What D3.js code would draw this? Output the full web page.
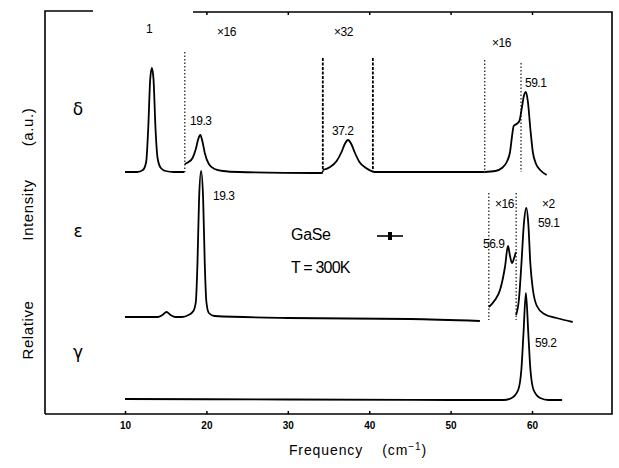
<!DOCTYPE html>
<html>
<head>
<meta charset="utf-8">
<script src="https://cdn.jsdelivr.net/npm/d3@7"></script>
<style>
  body { margin: 0; background: #fff; }
  svg { font-family: 'Liberation Sans', Arial, sans-serif; }
</style>
</head>
<body>
<svg id="chart" width="619" height="468"></svg>
<script>
// Spectra: [frequency (cm-1), intensity (arbitrary, offset per trace)]
// delta polytype (top trace), split into segments with different gains
const deltaX1a = [[10, 242], [11.5, 242], [12.2, 244], [12.6, 252], [12.85, 285], [13.1, 335], [13.3, 346],
  [13.5, 335], [13.75, 285], [14.0, 256], [14.4, 246], [15, 243], [16, 242], [17.3, 242]];
const deltaX16a = [[17.35, 250], [17.8, 252], [18.3, 256], [18.7, 265], [19.0, 275], [19.25, 279],
  [19.5, 273], [19.8, 261], [20.3, 250], [21, 245], [22, 243], [24, 242], [34.3, 241]];
const deltaX32 = [[34.3, 244], [35.2, 247], [36.0, 253], [36.6, 262], [37.0, 270], [37.4, 274],
  [37.8, 270], [38.2, 262], [38.8, 252], [39.6, 246], [40.5, 242]];
const deltaX1b = [[40.5, 242], [47, 242], [54.2, 242]];
const deltaX16b = [[54.2, 242], [55.5, 243], [56.3, 246], [56.9, 252], [57.3, 262], [57.55, 278],
  [57.75, 288], [58.1, 290], [58.45, 293], [58.75, 306], [59.0, 318], [59.25, 322], [59.5, 312],
  [59.8, 285], [60.1, 262], [60.5, 250], [61.0, 244], [61.8, 239]];

// epsilon polytype (middle trace)
const epsX1 = [[10, 97], [14, 97], [14.6, 99], [15.1, 102], [15.6, 99], [16.2, 97], [17.0, 97],
  [17.8, 99], [18.4, 103], [18.7, 112], [18.9, 150], [19.1, 215], [19.35, 243], [19.6, 215],
  [19.8, 150], [20.0, 112], [20.3, 101], [21, 98], [30, 96], [45, 95], [53.6, 93]];
const epsX16 = [[54.7, 107], [55.45, 114], [56.07, 124], [56.68, 147], [57.05, 168], [57.3, 158],
  [57.54, 151], [57.8, 156], [58.03, 162]];
const epsX2 = [[58.05, 99], [58.4, 115], [58.7, 150], [59.0, 190], [59.3, 206], [59.55, 190],
  [59.8, 150], [60.1, 125], [60.6, 108], [61.5, 100], [63, 96], [65, 92]];

// gamma polytype (bottom trace)
const gammaX1 = [[10, 15], [30, 14.5], [50, 14], [56.5, 14], [57.5, 16], [58.3, 24], [58.7, 45],
  [58.95, 80], [59.25, 121], [59.55, 80], [59.8, 45], [60.2, 24], [61, 16], [62, 14], [63.7, 14]];

const traces = [deltaX1a, deltaX16a, deltaX32, deltaX1b, deltaX16b, epsX1, epsX16, epsX2, gammaX1];

// gain change markers: [frequency, top, bottom, heavy]
const dividers = [[17.35, 362, 242, false], [34.3, 356, 242, true], [40.45, 356, 242, true],
  [54.2, 354, 242, false], [58.65, 351, 242, false], [54.7, 221, 94, false], [58.05, 221, 94, false]];

// peak and gain labels: [frequency, intensity, text]
const labels = [[12.58, 381, '1'], [21.3, 378, '×16'], [35.68, 378, '×32'],
  [55.09, 367, '×16'], [17.99, 289, '19.3'], [35.43, 279, '37.2'], [59.14, 327, '59.1'],
  [20.81, 214, '19.3'], [55.45, 206, '×16'], [61.23, 206, '×2'], [60.74, 187, '59.1'],
  [53.98, 166, '56.9'], [60.37, 67, '59.2']];

const polytypes = [['δ', 299], ['ε', 177], ['γ', 56]];
const yTitleWords = [['(a.u.)', 287], ['Intensity', 204], ['Relative', 84]];
const xTicks = [10, 20, 30, 40, 50, 60];
const xTopTicks = [20, 30, 40, 50, 60];

const svg = d3.select('#chart');
const frame = { left: 45, right: 612, top: 11, bottom: 414 };

const x = d3.scaleLinear().domain([10, 60]).range([125, 532]);
const y = d3.scaleLinear().domain([0, 400]).range([414, 14]);

// Frame (scanned original has a gap in the top line)
const g = svg.append('g').attr('stroke', '#000').attr('fill', 'none').attr('stroke-width', 1.6);
g.append('path').attr('d', `M${frame.left},${frame.bottom}V${frame.top}H93`);
g.append('path').attr('d', `M193,${frame.top + 1}H${frame.right}V${frame.bottom}H${frame.left}`);

// Bottom axis ticks (inward)
const xAxis = svg.append('g').attr('transform', `translate(0,${frame.bottom})`)
  .call(d3.axisBottom(x).tickValues(xTicks).tickSize(-3).tickFormat(d3.format('d')));
xAxis.select('.domain').remove();
xAxis.selectAll('line').attr('stroke-width', 1.5);
xAxis.selectAll('text').attr('dy', 12).attr('font-size', 10).attr('font-weight', 'bold')
  .attr('font-family', "'Liberation Sans', Arial, sans-serif");

// Top axis ticks (inward)
const xAxisTop = svg.append('g').attr('transform', `translate(0,${frame.top + 1})`)
  .call(d3.axisTop(x).tickValues(xTopTicks).tickSize(-3).tickFormat(''));
xAxisTop.select('.domain').remove();
xAxisTop.selectAll('line').attr('stroke-width', 1.5);

// Gain dividers
svg.append('g').selectAll('line').data(dividers).join('line')
  .attr('x1', d => x(d[0])).attr('x2', d => x(d[0]))
  .attr('y1', d => y(d[1])).attr('y2', d => y(d[2]))
  .attr('stroke', '#000')
  .attr('stroke-width', d => d[3] ? 1.8 : 1.1)
  .attr('stroke-dasharray', d => d[3] ? '3,1.5' : '1.5,2');

// Spectra
const line = d3.line().x(d => x(d[0])).y(d => y(d[1])).curve(d3.curveMonotoneX);
svg.append('g').selectAll('path').data(traces).join('path')
  .attr('d', line)
  .attr('fill', 'none')
  .attr('stroke', '#000')
  .attr('stroke-width', 1.8)
  .attr('stroke-linejoin', 'round');

// Labels
svg.append('g').selectAll('text').data(labels).join('text')
  .attr('x', d => x(d[0])).attr('y', d => y(d[1]))
  .attr('font-size', 12)
  .attr('letter-spacing', -0.5)
  .text(d => d[2]);

// Polytype symbols
svg.append('g').selectAll('text').data(polytypes).join('text')
  .attr('x', 78).attr('y', d => y(d[1]))
  .attr('text-anchor', 'middle')
  .attr('font-size', 17)
  .attr('font-family', "'DejaVu Sans', sans-serif")
  .text(d => d[0]);

// Sample annotation
svg.append('text').attr('x', 291).attr('y', 240).attr('font-size', 16).attr('letter-spacing', -0.3).text('GaSe');
svg.append('text').attr('x', 291).attr('y', 273).attr('font-size', 16).attr('letter-spacing', -0.8)
  .text('T = 300K');
svg.append('line').attr('x1', 377).attr('x2', 403).attr('y1', 236).attr('y2', 236)
  .attr('stroke', '#000').attr('stroke-width', 1.6);
svg.append('rect').attr('x', 388).attr('y', 232).attr('width', 4).attr('height', 8).attr('fill', '#000');

// Axis titles
const xt = svg.append('text').attr('x', 358).attr('y', 455).attr('text-anchor', 'middle')
  .attr('font-size', 14).attr('letter-spacing', 0.9);
xt.append('tspan').text('Frequency\u00a0\u00a0\u00a0\u00a0(cm');
xt.append('tspan').attr('font-size', 10).attr('dy', -5).text('−1');
xt.append('tspan').attr('dy', 5).text(')');

svg.append('g').selectAll('text').data(yTitleWords).join('text')
  .attr('transform', d => `translate(33,${y(d[1])}) rotate(-90)`)
  .attr('text-anchor', 'middle')
  .attr('font-size', 15).attr('letter-spacing', 0.6)
  .text(d => d[0]);
</script>
</body>
</html>
